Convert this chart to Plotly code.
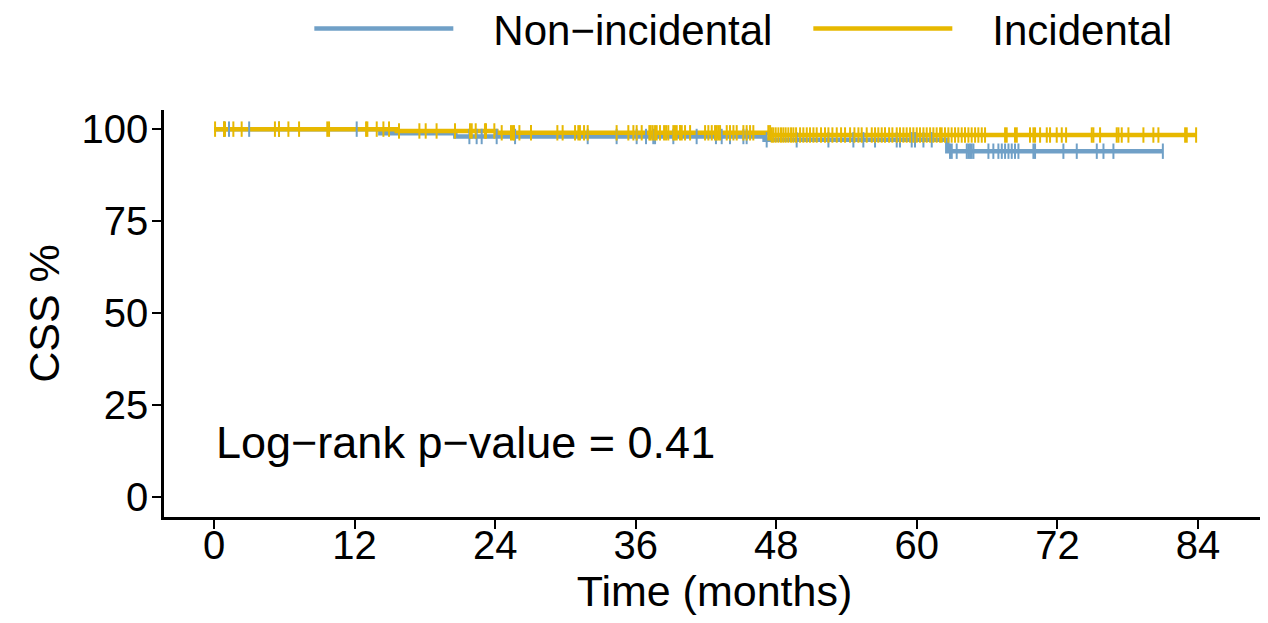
import plotly.graph_objects as go

# ---- data (months, CSS %) ----
group_names = ["Non\u2212incidental", "Incidental"]
group_colors = ["#70A0C7", "#E7B800"]

blue_step_times = [0, 14.2, 20.6, 47.0, 62.6, 81.0]
blue_step_surv = [100, 98.9, 98.0, 97.1, 94.0, 94.0]

yellow_step_times = [0, 15.6, 24.1, 47.5, 83.9]
yellow_step_surv = [100, 99.5, 99.0, 98.4, 98.4]

blue_censor = [0.85, 1.28, 3.0, 5.55, 12.18, 21.8, 22.42, 22.85, 24.13, 25.7, 31.9,
               34.37, 36.08, 36.88, 37.5, 37.65, 39.21, 41.2, 42.85, 43.34, 44.05,
               45.19, 45.47, 47.18, 49.74, 52.45, 54.58, 55.43, 56.43, 58.28, 58.56,
               59.56, 59.84, 60.56, 61.27, 62.83, 62.98, 63.4, 64.26, 64.4, 64.54,
               64.68, 64.83, 66.11, 66.53, 66.96, 67.25, 67.53, 67.82, 68.1, 68.38,
               68.67, 69.95, 70.09, 72.51, 73.65, 75.36, 75.93, 76.78, 81.0]

yellow_censor = [0.09, 0.85, 0.94, 1.65, 2.36, 5.2, 5.55, 6.35, 7.26, 9.67, 9.82,
                 12.98, 13.09, 13.89, 14.46, 14.94, 15.79, 17.53, 18.07, 19.0, 20.57,
                 21.85, 22.0, 22.34, 23.13, 23.22, 23.93, 24.56, 25.35, 25.5, 25.61,
                 26.07, 27.06, 29.31, 29.76, 30.82, 31.1, 31.24, 31.59, 31.9, 34.37,
                 35.37, 35.8, 36.08, 36.51, 37.16, 37.28, 37.45, 37.65, 37.79, 38.07,
                 38.42, 38.59, 38.78, 39.21, 39.35, 39.5, 39.78, 39.93, 40.21, 40.64,
                 41.92, 42.2, 42.49, 42.77, 43.05, 42.91, 43.2, 43.77, 44.05, 44.34,
                 44.62, 45.19, 45.47, 45.76, 46.04, 47.32, 47.47, 47.61, 47.75, 47.95,
                 48.18, 48.4, 48.6, 48.8, 49.03, 49.26, 49.46, 49.69, 50.03, 50.31,
                 50.6, 50.88, 51.17, 51.45, 51.82, 52.16, 52.45, 52.79, 53.16, 53.53,
                 53.87, 54.3, 54.67, 55.01, 55.29, 55.72, 56.15, 56.43, 56.71, 57.0,
                 57.28, 57.63, 57.91, 58.28, 58.56, 58.85, 59.13, 59.42, 59.7, 59.99,
                 60.27, 60.56, 60.84, 61.13, 61.41, 61.69, 61.98, 62.12, 62.4, 62.69,
                 62.97, 63.26, 63.54, 63.83, 64.11, 64.4, 64.68, 64.97, 65.25, 65.54,
                 65.82, 67.53, 67.67, 68.38, 68.53, 69.66, 69.95, 70.09, 70.52, 71.09,
                 71.37, 71.94, 72.37, 72.74, 74.93, 75.07, 75.64, 77.06, 77.21, 77.49,
                 78.06, 79.34, 80.19, 80.62, 82.9, 83.04, 83.84]

x_ticks = [0, 12, 24, 36, 48, 60, 72, 84]
y_ticks = [0, 25, 50, 75, 100]
annotation_text = "Log\u2212rank p\u2212value = 0.41"


def surv_at(t, times, surv):
    s = surv[0]
    for ti, si in zip(times, surv):
        if t >= ti:
            s = si
    return s


FONT = "Liberation Sans, Arial, Helvetica, sans-serif"
NB = "\u00a0"
fig = go.Figure()

steps = [(blue_step_times, blue_step_surv), (yellow_step_times, yellow_step_surv)]
censors = [blue_censor, yellow_censor]

for (tt, ss), name, col in zip(steps, group_names, group_colors):
    fig.add_trace(go.Scatter(x=tt, y=ss, mode="lines", name=NB * 3 + name,
                             line=dict(color=col, width=4.5, shape="hv"),
                             showlegend=True))

for (tt, ss), cens, col in zip(steps, censors, group_colors):
    fig.add_trace(go.Scatter(x=cens, y=[surv_at(c, tt, ss) for c in cens],
                             mode="markers", showlegend=False, hoverinfo="skip",
                             marker=dict(symbol="line-ns", size=11, color=col,
                                         line=dict(color=col, width=2))))

fig.add_annotation(x=0, y=14.7, xref="x", yref="y", text=annotation_text,
                   showarrow=False, xanchor="left", yanchor="middle",
                   font=dict(family=FONT, size=45, color="black"))

fig.update_layout(
    width=1260, height=615,
    margin=dict(l=156, r=3, t=102, b=106, autoexpand=False),
    plot_bgcolor="white", paper_bgcolor="white",
    font=dict(family=FONT, color="black"),
    showlegend=True,
    legend=dict(orientation="h", x=0.132, y=1.2, xanchor="left", yanchor="middle",
                font=dict(size=42, family=FONT, color="black"),
                itemwidth=139, entrywidth=345, bgcolor="rgba(0,0,0,0)", tracegroupgap=0),
    xaxis=dict(range=[-4.27, 89.72], tickvals=x_ticks, ticktext=[str(v) for v in x_ticks],
               showline=True, linecolor="black", linewidth=2.5, mirror=False,
               ticks="outside", ticklen=9, tickwidth=2, tickcolor="black",
               showgrid=False, zeroline=False, automargin=False,
               ticklabelstandoff=-18,
               tickfont=dict(size=40, family=FONT, color="black"),
               title=dict(text="Time (months)", font=dict(size=43, family=FONT, color="black"),
                          standoff=10)),
    yaxis=dict(range=[-5.43, 105.2], tickvals=y_ticks, ticktext=[str(v) for v in y_ticks],
               showline=True, linecolor="black", linewidth=2.5, mirror=False,
               ticks="outside", ticklen=9, tickwidth=2, tickcolor="black",
               showgrid=False, zeroline=False, automargin=False,
               ticklabelstandoff=-4,
               tickfont=dict(size=40, family=FONT, color="black"),
               title=dict(text="CSS %", font=dict(size=43, family=FONT, color="black"),
                          standoff=9)),
)

fig.write_html("out.html")
